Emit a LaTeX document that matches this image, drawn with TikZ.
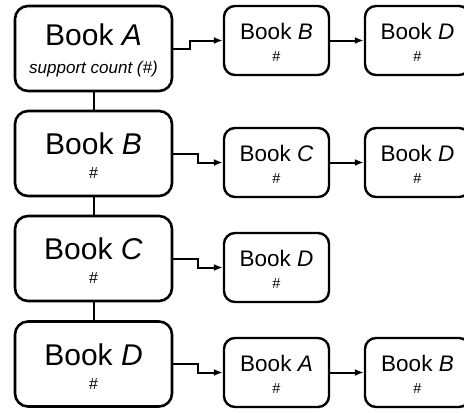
\documentclass[tikz,border=0pt]{standalone}
\usepackage{fontspec}
\setmainfont{Liberation Sans}
\usetikzlibrary{arrows.meta}
\tikzset{
  bigbox/.style={draw, line width=2.6pt, rounded corners=13pt, minimum width=157pt, minimum height=85pt, inner sep=0pt, align=center, fill=white},
  smallbox/.style={draw, line width=2.4pt, rounded corners=11pt, minimum width=105pt, minimum height=69pt, inner sep=0pt, align=center, fill=white},
  conn/.style={line width=2pt},
  arr/.style={line width=2pt, -{Latex[length=9pt,width=7pt]}},
}
\newcommand{\bigtitle}[1]{{\fontsize{30}{30}\selectfont\rule{0pt}{26pt}Book \textit{#1}}}
\newcommand{\smalltitle}[1]{{\fontsize{22.5}{23}\selectfont\rule{0pt}{19pt}Book \textit{#1}}}
\newcommand{\bighash}{{\fontsize{16}{17}\selectfont \#}}
\newcommand{\smallhash}{{\fontsize{14.5}{15}\selectfont \#}}
\begin{document}
\begin{tikzpicture}[x=1pt,y=-1pt]
\useasboundingbox (0,0) rectangle (464,413);
\clip (0,0) rectangle (464,413);
% big boxes
\node[bigbox] (bA) at (93.5,48.5) {\bigtitle{A}\\[14pt]{\fontsize{17}{18}\selectfont\itshape support count (\#)}};
\node[bigbox] (bB) at (93.5,153.5) {\bigtitle{B}\\[12pt]\bighash};
\node[bigbox] (bC) at (93.5,258.5) {\bigtitle{C}\\[12pt]\bighash};
\node[bigbox] (bD) at (93.5,364) {\bigtitle{D}\\[12pt]\bighash};
% small boxes
\node[smallbox] (a1) at (276.5,40.5) {\smalltitle{B}\\[10pt]\smallhash};
\node[smallbox] (a2) at (417.5,40.5) {\smalltitle{D}\\[10pt]\smallhash};
\node[smallbox] (b1) at (276.5,162.5) {\smalltitle{C}\\[10pt]\smallhash};
\node[smallbox] (b2) at (417.5,162.5) {\smalltitle{D}\\[10pt]\smallhash};
\node[smallbox] (c1) at (276.5,267.5) {\smalltitle{D}\\[10pt]\smallhash};
\node[smallbox] (d1) at (276.5,372.5) {\smalltitle{A}\\[10pt]\smallhash};
\node[smallbox] (d2) at (417.5,372.5) {\smalltitle{B}\\[10pt]\smallhash};
% vertical links
\draw[conn] (bA.south) -- (bB.north);
\draw[conn] (bB.south) -- (bC.north);
\draw[conn] (bC.south) -- (bD.north);
% elbows
\draw[arr] (bA.east) -- ++(17,0) |- (a1.west);
\draw[arr] (bB.east) -- ++(25,0) |- (b1.west);
\draw[arr] (bC.east) -- ++(25,0) |- (c1.west);
\draw[arr] (bD.east) -- ++(25,0) |- (d1.west);
% straight arrows
\draw[arr] (a1.east) -- (a2.west);
\draw[arr] (b1.east) -- (b2.west);
\draw[arr] (d1.east) -- (d2.west);
\end{tikzpicture}
\end{document}
